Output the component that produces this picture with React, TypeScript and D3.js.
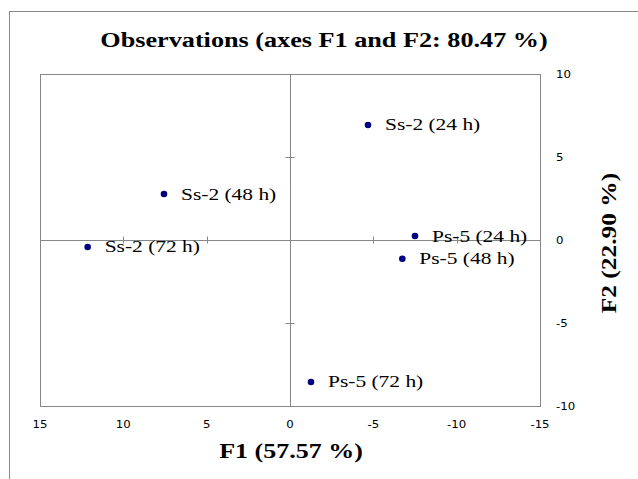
import * as d3 from "d3";
import { useEffect, useRef } from "react";

// observations (F1, F2 scores)
const obsLabels = ["Ss-2 (24 h)", "Ss-2 (48 h)", "Ss-2 (72 h)", "Ps-5 (24 h)", "Ps-5 (48 h)", "Ps-5 (72 h)"];
const f1Values = [-4.68, 7.56, 12.14, -7.5, -6.74, -1.26];
const f2Values = [6.93, 2.77, -0.42, 0.24, -1.13, -8.55];
const xTicks = [15, 10, 5, 0, -5, -10, -15];
const yTicks = [10, 5, 0, -5, -10];

const App = () => {
  const divElement = useRef<HTMLDivElement>(null);

  useEffect(() => {
    document.body.style.margin = "0";
    const root = d3.select(divElement.current);
    root.selectAll("*").remove();

    const width = 638, height = 479;
    const margin = { top: 74, right: 98, bottom: 73, left: 40 };
    const grey = "#878787";
    const serif = "'Liberation Serif', 'Times New Roman', serif";
    const sans = "'DejaVu Sans', Verdana, sans-serif";
    // the original glyphs are wider than Liberation's, stretch along the text
    const wide = (px: number, py: number, s: number) => `translate(${px},${py})scale(${s},1)`;

    const svg = root.append("svg")
      .attr("width", width)
      .attr("height", height)
      .style("display", "block");

    // outer chart frame (cut by the window on the right and bottom)
    svg.append("rect")
      .attr("x", 9.5).attr("y", 11.5)
      .attr("width", 700).attr("height", 600)
      .attr("fill", "white").attr("stroke", grey);

    const x = d3.scaleLinear()
      .domain([15, -15])
      .range([margin.left, width - margin.right]);
    const y = d3.scaleLinear()
      .domain([-10, 10])
      .range([height - margin.bottom, margin.top]);

    // plot area
    svg.append("rect")
      .attr("x", x(15) + 0.5).attr("y", y(10) + 0.5)
      .attr("width", x(-15) - x(15)).attr("height", y(-10) - y(10))
      .attr("fill", "none").attr("stroke", grey);

    // axes through origin
    svg.append("line")
      .attr("x1", x(15)).attr("x2", x(-15))
      .attr("y1", Math.round(y(0)) + 0.5).attr("y2", Math.round(y(0)) + 0.5)
      .attr("stroke", grey);
    svg.append("line")
      .attr("x1", Math.round(x(0)) + 0.5).attr("x2", Math.round(x(0)) + 0.5)
      .attr("y1", y(10)).attr("y2", y(-10))
      .attr("stroke", grey);

    svg.append("g").selectAll("line")
      .data(xTicks)
      .enter().append("line")
      .attr("x1", d => Math.round(x(d)) + 0.5).attr("x2", d => Math.round(x(d)) + 0.5)
      .attr("y1", y(0) - 3.5).attr("y2", y(0) + 3.5)
      .attr("stroke", grey);
    svg.append("g").selectAll("line")
      .data(yTicks)
      .enter().append("line")
      .attr("x1", x(0) - 4.5).attr("x2", x(0) + 4.5)
      .attr("y1", d => Math.round(y(d)) + 0.5).attr("y2", d => Math.round(y(d)) + 0.5)
      .attr("stroke", grey);

    // tick labels
    svg.append("g").selectAll("text")
      .data(xTicks)
      .enter().append("text")
      .attr("transform", d => wide(x(d), 428, 1.12))
      .attr("text-anchor", "middle")
      .style("font-family", sans).style("font-size", "10.5px")
      .text(d => d);
    svg.append("g").selectAll("text")
      .data(yTicks)
      .enter().append("text")
      .attr("transform", d => wide(556, y(d) + 4, 1.12))
      .style("font-family", sans).style("font-size", "10.5px")
      .text(d => d);

    // points + labels
    const pts = svg.append("g").selectAll("g")
      .data(obsLabels.map((l, i) => ({ label: l, f1: f1Values[i], f2: f2Values[i] })))
      .enter().append("g");
    pts.append("circle")
      .attr("cx", d => x(d.f1)).attr("cy", d => y(d.f2))
      .attr("r", 3.3).attr("fill", "#000080");
    pts.append("text")
      .attr("transform", d => wide(x(d.f1) + 17, y(d.f2) + 5.5, 1.34))
      .style("font-family", serif).style("font-size", "16px")
      .text(d => d.label);

    // titles
    svg.append("text")
      .attr("transform", wide(324, 47, 1.31))
      .attr("text-anchor", "middle")
      .style("font-family", serif).style("font-size", "20px").style("font-weight", "bold")
      .text("Observations (axes F1 and F2: 80.47 %)");
    svg.append("text")
      .attr("transform", wide(291, 458, 1.3))
      .attr("text-anchor", "middle")
      .style("font-family", serif).style("font-size", "20px").style("font-weight", "bold")
      .text("F1 (57.57 %)");
    svg.append("text")
      .attr("transform", "translate(616,243)rotate(-90)scale(1.27,1)")
      .attr("text-anchor", "middle")
      .style("font-family", serif).style("font-size", "20px").style("font-weight", "bold")
      .text("F2 (22.90 %)");
  }, []);

  return <div className="plot" ref={divElement}></div>;
};

export default App;
